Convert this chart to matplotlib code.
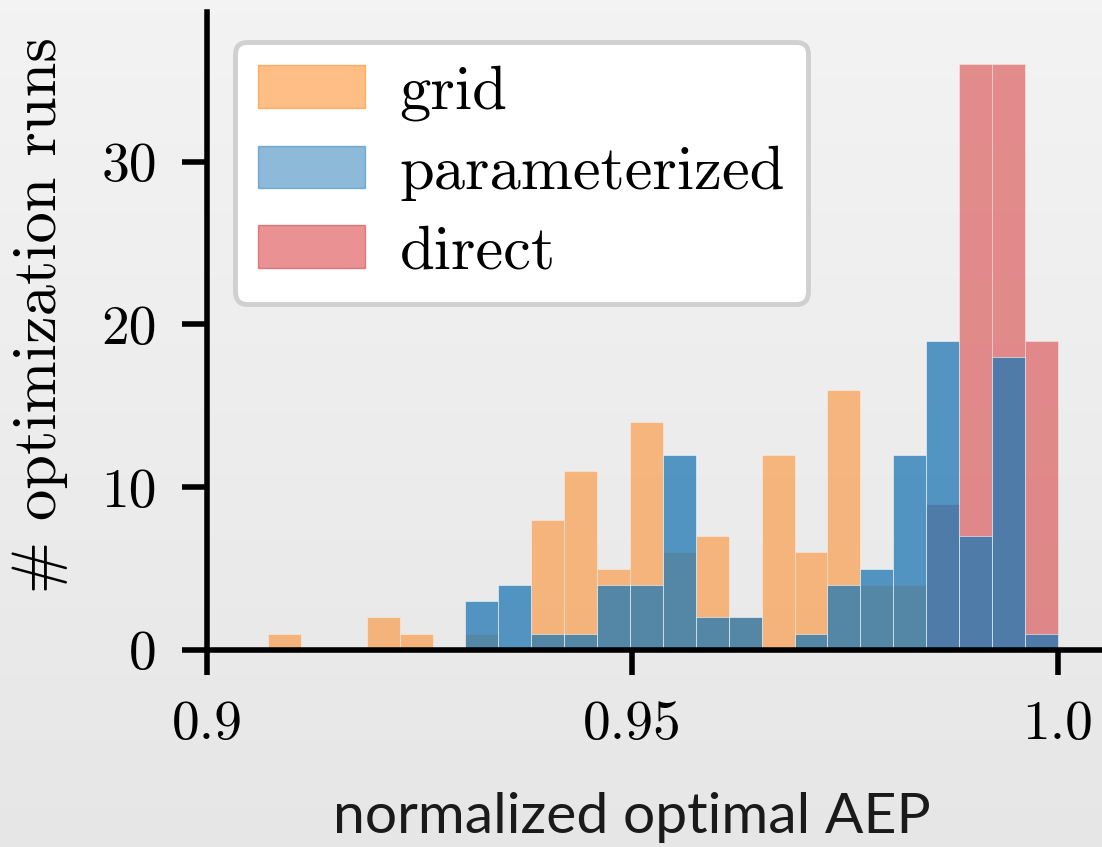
import numpy as np
import matplotlib
matplotlib.use("Agg")
import matplotlib.pyplot as plt
from matplotlib.patches import Patch

# histogram bins (24 equal bins up to 1.0)
bin_lo = 0.90717
bin_hi = 1.0
n_bins = 24

# counts per bin, 100 runs each
grid_counts = [1, 0, 0, 2, 1, 0, 1, 0, 8, 11, 5, 14, 6, 7, 2, 12, 6, 16, 4, 4, 0, 0, 0, 0]
param_counts = [0, 0, 0, 0, 0, 0, 3, 4, 1, 1, 4, 4, 12, 2, 2, 0, 1, 4, 5, 12, 19, 7, 18, 1]
direct_counts = [0, 0, 0, 0, 0, 0, 0, 0, 0, 0, 0, 0, 0, 0, 0, 0, 0, 0, 0, 0, 9, 36, 36, 19]

labels = ["grid", "parameterized", "direct"]
xticks = [0.9, 0.95, 1.0]
xticklabels = ["0.9", "0.95", "1.0"]
yticks = [0, 10, 20, 30]

edges = np.linspace(bin_lo, bin_hi, n_bins + 1)
centers = 0.5 * (edges[:-1] + edges[1:])

W, H = 1102, 847
fig = plt.figure(figsize=(W / 100, H / 100), dpi=100)

# slide-like grey gradient background
bg = fig.add_axes([0, 0, 1, 1], zorder=-10)
grad = np.linspace(0.95, 0.90, 256).reshape(-1, 1)
bg.imshow(grad, aspect="auto", cmap="gray", vmin=0, vmax=1, extent=[0, 1, 0, 1])
bg.axis("off")

ax = fig.add_axes([207 / W, (H - 650) / H, (W - 207) / W, (650 - 12) / H])
ax.patch.set_alpha(0)

cm_font = "cmr10"
ax.hist(centers, bins=edges, weights=direct_counts, color="tab:red", alpha=0.5,
        ec="w", lw=0.5)
ax.hist(centers, bins=edges, weights=grid_counts, color="tab:orange", alpha=0.5,
        ec="w", lw=0.5)
ax.hist(centers, bins=edges, weights=param_counts, color="tab:blue", alpha=0.75,
        ec="w", lw=0.5)

ax.set_xlim(0.9, 1.0052)
ax.set_ylim(0, 39.2)
ax.spines["top"].set_visible(False)
ax.spines["right"].set_visible(False)
for s in ["left", "bottom"]:
    ax.spines[s].set_linewidth(4)

ax.set_xticks(xticks)
ax.set_xticklabels(xticklabels, fontfamily=cm_font, fontsize=40)
ax.set_yticks(yticks)
ax.set_yticklabels([str(v) for v in yticks], fontfamily=cm_font, fontsize=40)
ax.tick_params(length=18, width=4, pad=18)

ax.set_ylabel("# optimization runs", fontfamily=cm_font, fontsize=45)
ax.yaxis.set_label_coords(-0.155, 0.525)
ax.set_xlabel("normalized optimal AEP", fontfamily="Lato", fontsize=41,
              color="#1a1a1a")
ax.xaxis.set_label_coords(0.475, -0.222)

handles = [Patch(color="tab:orange", alpha=0.5),
           Patch(color="tab:blue", alpha=0.5),
           Patch(color="tab:red", alpha=0.5)]
leg = ax.legend(handles, labels, loc="upper left", bbox_to_anchor=(0.031, 0.953),
                borderaxespad=0, prop={"family": cm_font, "size": 45},
                handlelength=1.71, handleheight=0.66, handletextpad=0.56,
                labelspacing=0.39, borderpad=0.37, fancybox=True, framealpha=1)
leg.get_frame().set_edgecolor("#d0d0d0")
leg.get_frame().set_linewidth(3.5)

fig.savefig("out.png", dpi=100)
